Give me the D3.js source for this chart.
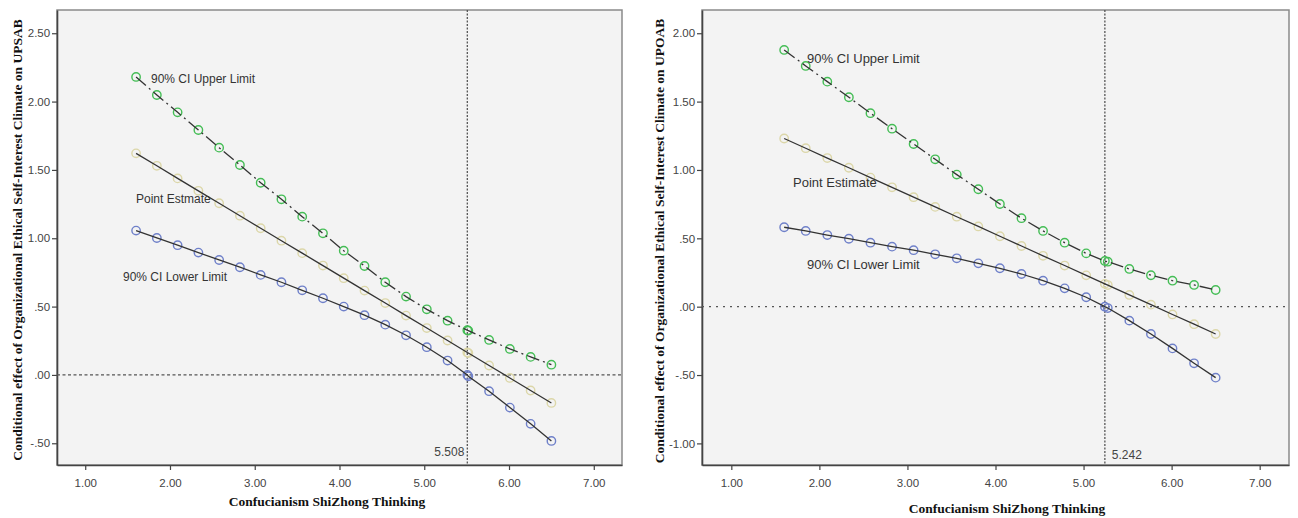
<!DOCTYPE html>
<html><head><meta charset="utf-8">
<script src="https://cdn.jsdelivr.net/npm/d3@7"></script>
<style>html,body{margin:0;padding:0;background:#fff;}svg{display:block;}</style>
</head><body>
<svg id="chart" width="1298" height="518"></svg>
<script>
// ---------- Data ----------
const xTickLabels = ["1.00","2.00","3.00","4.00","5.00","6.00","7.00"];
const xTicks = [1,2,3,4,5,6,7];

// Left panel (UPSAB)
const leftX = [1.6,1.845,2.09,2.335,2.58,2.825,3.07,3.315,3.56,3.805,4.05,4.295,4.54,4.785,5.03,5.275,5.508,5.52,5.765,6.01,6.255,6.5];
const leftUpper = [2.180,2.048,1.921,1.792,1.663,1.536,1.406,1.285,1.158,1.036,0.909,0.797,0.678,0.573,0.480,0.397,0.327,0.324,0.256,0.190,0.132,0.075];
const leftEstimate = [1.621,1.530,1.438,1.347,1.256,1.165,1.073,0.982,0.891,0.800,0.708,0.617,0.526,0.434,0.343,0.252,0.164,0.160,0.069,-0.022,-0.114,-0.205];
const leftLower = [1.056,1.002,0.949,0.895,0.841,0.788,0.732,0.678,0.619,0.561,0.500,0.437,0.368,0.290,0.203,0.105,0.000,-0.010,-0.119,-0.239,-0.358,-0.483];
const leftYTicks = [-0.5,0,0.5,1,1.5,2,2.5];
const leftYTickLabels = ["-.50",".00",".50","1.00","1.50","2.00","2.50"];
const leftJN = 5.508;

// Right panel (UPOAB)
const rightX = [1.6,1.845,2.09,2.335,2.58,2.825,3.07,3.315,3.56,3.805,4.05,4.295,4.54,4.785,5.03,5.242,5.275,5.52,5.765,6.01,6.255,6.5];
const rightUpper = [1.878,1.761,1.646,1.532,1.415,1.302,1.190,1.078,0.966,0.859,0.751,0.647,0.554,0.468,0.390,0.334,0.329,0.276,0.230,0.190,0.159,0.122];
const rightEstimate = [1.230,1.159,1.087,1.016,0.944,0.873,0.801,0.730,0.658,0.587,0.515,0.444,0.372,0.301,0.229,0.167,0.158,0.086,0.015,-0.057,-0.128,-0.200];
const rightLower = [0.581,0.554,0.524,0.497,0.468,0.439,0.413,0.383,0.354,0.317,0.281,0.239,0.190,0.134,0.069,0.000,-0.010,-0.102,-0.200,-0.305,-0.414,-0.519];
const rightYTicks = [-1,-0.5,0,0.5,1,1.5,2];
const rightYTickLabels = ["-1.00","-.50",".00",".50","1.00","1.50","2.00"];
const rightJN = 5.242;

const xTitle = "Confucianism ShiZhong Thinking";
const leftYTitle = "Conditional effect of Organizational Ethical Self-Interest Climate on UPSAB";
const rightYTitle = "Conditional effect of Organizational Ethical Self-Interest Climate on UPOAB";

// ---------- Drawing ----------
const svg = d3.select("#chart");
const COL_UP = "#44bd55", COL_LO = "#6f80c9", COL_EST = "#dcd7a9";

function panel(cfg){
  const g = svg.append("g");
  const x = d3.scaleLinear().domain([0.667,7.333]).range([cfg.left,cfg.right]);
  const y = d3.scaleLinear().domain(cfg.yDomain).range([cfg.bottom,cfg.top]);

  g.append("rect").attr("x",cfg.left).attr("y",cfg.top)
    .attr("width",cfg.right-cfg.left).attr("height",cfg.bottom-cfg.top)
    .attr("fill","#f3f3f3").attr("stroke","#8a8a8a").attr("stroke-width",1.5);

  // axes
  const xa = g.append("g").attr("transform",`translate(0,${cfg.bottom})`)
    .call(d3.axisBottom(x).tickValues(xTicks).tickFormat((d,i)=>xTickLabels[i]).tickSize(5).tickSizeOuter(0));
  const ya = g.append("g").attr("transform",`translate(${cfg.left},0)`)
    .call(d3.axisLeft(y).tickValues(cfg.yTicks).tickFormat((d,i)=>cfg.yTickLabels[i]).tickSize(5).tickSizeOuter(0));
  [xa,ya].forEach(a=>{
    a.select(".domain").attr("stroke","#444").attr("stroke-width",1.6);
    a.selectAll(".tick line").attr("stroke","#444").attr("stroke-width",1.2);
    a.selectAll(".tick text").attr("fill","#444").attr("font-family","Liberation Sans, Arial, sans-serif").attr("font-size",11.5);
  });
  xa.selectAll(".tick text").attr("dy","1.25em");
  ya.selectAll(".tick text").attr("dx","0.1em");

  // reference lines
  g.append("line").attr("x1",cfg.left).attr("x2",cfg.right).attr("y1",y(0)).attr("y2",y(0))
    .attr("stroke","#555").attr("stroke-width",1.3).attr("stroke-dasharray",cfg.zeroDash);
  g.append("line").attr("x1",x(cfg.jn)).attr("x2",x(cfg.jn)).attr("y1",cfg.top).attr("y2",cfg.bottom)
    .attr("stroke","#555").attr("stroke-width",1.3).attr("stroke-dasharray","2,1.5");
  g.append("text").attr("x",x(cfg.jn)+cfg.jnDx).attr("y",cfg.jnY)
    .attr("text-anchor",cfg.jnAnchor).attr("fill","#444")
    .attr("font-family","Liberation Sans, Arial, sans-serif").attr("font-size",12).text(cfg.jn.toFixed(3));

  const line = d3.line().x(d=>x(d[0])).y(d=>y(d[1]));
  const series = [
    {vals:cfg.upper, col:COL_UP, dash:"13,4,2,4"},
    {vals:cfg.est, col:COL_EST, dash:null},
    {vals:cfg.lower, col:COL_LO, dash:null}
  ];
  series.forEach(s=>{
    const pts = cfg.xs.map((xv,i)=>[xv,s.vals[i]]);
    g.append("g").selectAll("circle").data(pts).join("circle")
      .attr("cx",d=>x(d[0])).attr("cy",d=>y(d[1])).attr("r",4.2)
      .attr("fill","none").attr("stroke",s.col).attr("stroke-width",1.4);
  });
  series.forEach(s=>{
    const pts = cfg.xs.map((xv,i)=>[xv,s.vals[i]]);
    g.append("path").datum(pts).attr("d",line).attr("fill","none")
      .attr("stroke","#333").attr("stroke-width",1.3)
      .attr("stroke-dasharray",s.dash);
  });

  // labels
  const lf = "Liberation Sans, Arial, sans-serif";
  cfg.labels.forEach(l=>{
    g.append("text").attr("x",l.x).attr("y",l.y).attr("font-family",lf)
      .attr("font-size",cfg.labelSize).attr("fill","#333").text(l.t);
  });

  // titles
  g.append("text").attr("x",cfg.xTitleX).attr("y",cfg.xTitleY).attr("text-anchor","middle")
    .attr("font-family","Liberation Serif, Times New Roman, serif").attr("font-weight","bold")
    .attr("font-size",13.5).attr("fill","#111").text(xTitle);
  g.append("text").attr("transform",`translate(${cfg.yTitleX},${cfg.yTitleY}) rotate(-90)`)
    .attr("text-anchor","middle")
    .attr("font-family","Liberation Serif, Times New Roman, serif").attr("font-weight","bold")
    .attr("font-size",13.5).attr("fill","#111").text(cfg.yTitle);
}

panel({
  left:57, right:622, top:10, bottom:465,
  yDomain:[-0.659,2.670], yTicks:leftYTicks, yTickLabels:leftYTickLabels,
  xs:leftX, upper:leftUpper, est:leftEstimate, lower:leftLower,
  jn:leftJN, jnDx:-3, jnY:456, jnAnchor:"end", zeroDash:"3,2.5",
  labelSize:12,
  labels:[{x:151,y:83,t:"90% CI Upper Limit"},{x:136,y:203,t:"Point Estmate"},{x:123,y:281,t:"90% CI Lower Limit"}],
  xTitleX:327, xTitleY:506, yTitleX:22, yTitleY:240, yTitle:leftYTitle
});
panel({
  left:702, right:1289, top:10, bottom:465,
  yDomain:[-1.158,2.170], yTicks:rightYTicks, yTickLabels:rightYTickLabels,
  xs:rightX, upper:rightUpper, est:rightEstimate, lower:rightLower,
  jn:rightJN, jnDx:7, jnY:459, jnAnchor:"start", zeroDash:"2,5",
  labelSize:13,
  labels:[{x:807,y:63,t:"90% CI Upper Limit"},{x:793,y:187,t:"Point Estimate"},{x:807,y:269,t:"90% CI Lower Limit"}],
  xTitleX:1007, xTitleY:513, yTitleX:664, yTitleY:241, yTitle:rightYTitle
});
</script>
</body></html>
